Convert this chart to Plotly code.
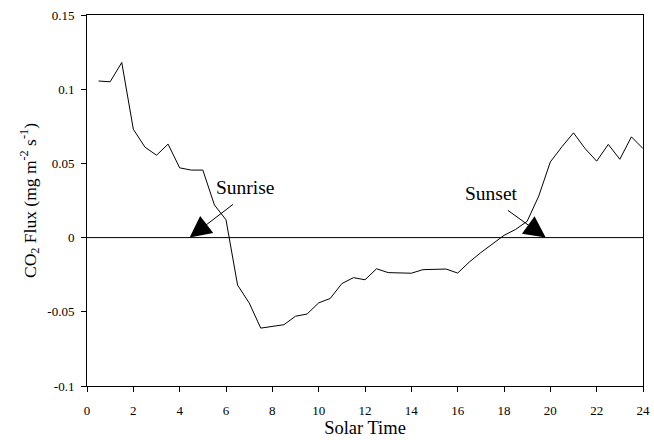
import plotly.graph_objects as go

solar_time = [0.5, 1.0, 1.5, 2.0, 2.5, 3.0, 3.5, 4.0, 4.5, 5.0, 5.5, 6.0,
              6.5, 7.0, 7.5, 8.0, 8.5, 9.0, 9.5, 10.0, 10.5, 11.0, 11.5, 12.0,
              12.5, 13.0, 13.5, 14.0, 14.5, 15.0, 15.5, 16.0, 16.5, 17.0, 17.5, 18.0,
              18.5, 19.0, 19.5, 20.0, 20.5, 21.0, 21.5, 22.0, 22.5, 23.0, 23.5, 24.0]
co2_flux = [0.1055, 0.105, 0.118, 0.073, 0.061, 0.0555, 0.063, 0.047, 0.0455, 0.0455, 0.022, 0.012,
            -0.032, -0.044, -0.061, -0.060, -0.0587, -0.053, -0.0515, -0.044, -0.041, -0.031, -0.027, -0.0284,
            -0.021, -0.0236, -0.0236, -0.024, -0.0216, -0.0214, -0.0212, -0.0239, -0.0165, -0.0101, -0.0045, 0.0015,
            0.0055, 0.011, 0.028, 0.051, 0.0612, 0.0706, 0.060, 0.0515, 0.0628, 0.0528, 0.0679, 0.060]

x_ticks = [0, 2, 4, 6, 8, 10, 12, 14, 16, 18, 20, 22, 24]
y_ticks = [0.15, 0.1, 0.05, 0, -0.05, -0.1]
y_tick_labels = ["0.15", "0.1", "0.05", "0", "-0.05", "-0.1"]

# annotation anchors (label, text position, arrow tail, arrow tip)
events = ["Sunrise", "Sunset"]
label_x = [6.85, 17.47]
label_y = [0.0335, 0.030]
tail_x = [6.37, 18.1]
tail_y = [0.0232, 0.0191]
tip_x = [4.43, 19.8]
tip_y = [0.0, 0.0]

font_family = "Liberation Serif, Times New Roman, serif"

fig = go.Figure()
fig.add_trace(go.Scatter(x=solar_time, y=co2_flux, mode="lines",
                         line=dict(color="black", width=1), showlegend=False,
                         hoverinfo="skip"))

for i, name in enumerate(events):
    fig.add_annotation(x=label_x[i], y=label_y[i], xref="x", yref="y", text=name,
                       showarrow=False, font=dict(family=font_family, size=19.5, color="black"))
    fig.add_annotation(x=tip_x[i], y=tip_y[i], ax=tail_x[i], ay=tail_y[i],
                       xref="x", yref="y", axref="x", ayref="y", text="",
                       showarrow=True, arrowhead=2, arrowsize=4.3, arrowwidth=1,
                       arrowcolor="black", standoff=0, startstandoff=0)

fig.add_hline(y=0, line=dict(color="black", width=1))

fig.update_layout(
    width=654, height=440,
    margin=dict(l=87, r=11, t=15, b=54),
    paper_bgcolor="white", plot_bgcolor="white",
    font=dict(family=font_family, color="black", size=13),
)
fig.update_xaxes(range=[0, 24], tickvals=x_ticks, ticks="outside", ticklen=5,
                 tickcolor="black", showline=True, linecolor="black", linewidth=1,
                 mirror=True, showgrid=False, zeroline=False, automargin=False,
                 ticklabelstandoff=7,
                 title=dict(text="Solar Time", font=dict(size=18.5), standoff=4))
fig.update_yaxes(range=[-0.1, 0.15], tickvals=y_ticks, ticktext=y_tick_labels,
                 ticks="outside", ticklen=5, tickcolor="black", showline=True,
                 linecolor="black", linewidth=1, mirror=True, showgrid=False,
                 zeroline=False, automargin=False, ticklabelstandoff=4,
                 title=dict(text="CO<sub>2</sub> Flux (mg m<sup>-2</sup> s<sup>-1</sup>)",
                            font=dict(size=17.5), standoff=6))

fig.write_html("out.html")
